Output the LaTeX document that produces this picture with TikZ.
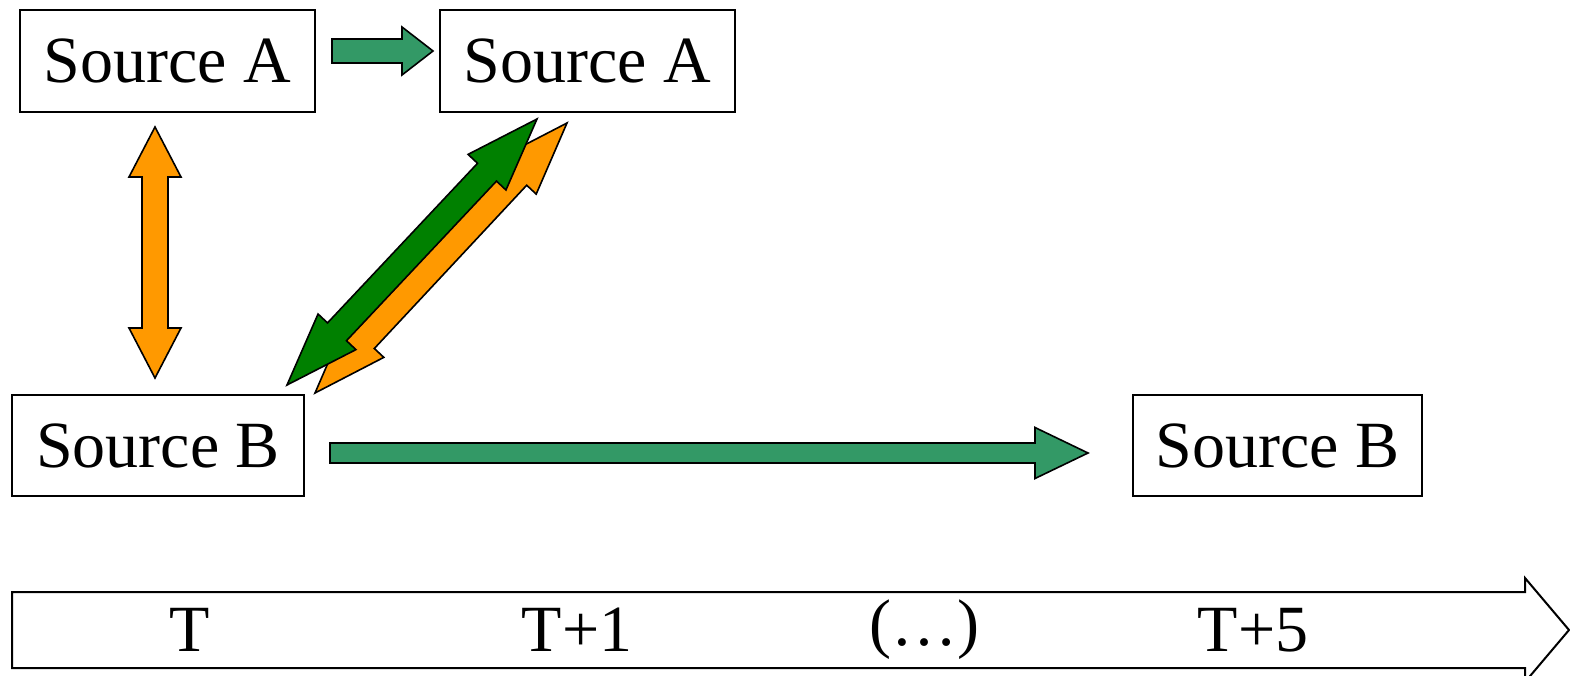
\documentclass[tikz,border=0pt]{standalone}
\usepackage{fontspec}
\setmainfont{Liberation Serif}
\usetikzlibrary{calc}

\definecolor{seagreen}{RGB}{51,153,102}
\definecolor{leafgreen}{RGB}{0,128,0}
\definecolor{amber}{RGB}{255,153,0}

% block arrow with one head: #1 style, #2 tail, #3 tip,
% #4 half body width, #5 half head width, #6 head length
\newcommand\blocksingle[6]{%
  \coordinate (hbase) at ($(#3)!#6!(#2)$);
  \path[#1] ($(#2)!#4!90:(#3)$) -- ($(hbase)!#4!-90:(#2)$)
    -- ($(hbase)!#5!-90:(#2)$) -- (#3) -- ($(hbase)!#5!90:(#2)$)
    -- ($(hbase)!#4!90:(#2)$) -- ($(#2)!#4!-90:(#3)$) -- cycle;
}
% block arrow with a head at both ends
\newcommand\blockdouble[6]{%
  \coordinate (hbaseA) at ($(#2)!#6!(#3)$);
  \coordinate (hbaseB) at ($(#3)!#6!(#2)$);
  \path[#1] (#2) -- ($(hbaseA)!#5!90:(#3)$) -- ($(hbaseA)!#4!90:(#3)$)
    -- ($(hbaseB)!#4!-90:(#2)$) -- ($(hbaseB)!#5!-90:(#2)$) -- (#3)
    -- ($(hbaseB)!#5!90:(#2)$) -- ($(hbaseB)!#4!90:(#2)$)
    -- ($(hbaseA)!#4!-90:(#3)$) -- ($(hbaseA)!#5!-90:(#3)$) -- cycle;
}

\tikzset{
  srcbox/.style={draw=black, line width=2pt, fill=white, inner sep=0pt,
    font=\fontsize{66}{70}\selectfont},
  ticklabel/.style={inner sep=0pt, font=\fontsize{66}{70}\selectfont},
  arrowshape/.style={draw=black, line width=1.6pt, line join=miter},
}

\begin{document}
\begin{tikzpicture}[x=1pt, y=-1pt]
  \useasboundingbox (0,0) rectangle (1570,676);
  \clip (0,0) rectangle (1570,676);

  % time axis
  \coordinate (axisTail) at (12,630);
  \coordinate (axisTip) at (1569,630);
  \blocksingle{arrowshape, line width=2pt, fill=white}{axisTail}{axisTip}{38pt}{52pt}{44pt}
  \node[ticklabel] (tT)  at (190,630) {T};
  \node[ticklabel] (tT1) at (577,630) {T+1};
  \node[ticklabel] (tDots) at (924,630) {(…)};
  \node[ticklabel] (tT5) at (1253,630) {T+5};

  % sources
  \node[srcbox, minimum width=295pt, minimum height=102pt] (srcA0) at (167.5,61) {Source A};
  \node[srcbox, minimum width=295pt, minimum height=102pt] (srcA1) at (587.5,61) {Source A};
  \node[srcbox, minimum width=292pt, minimum height=101pt] (srcB0) at (158,445.5) {Source B};
  \node[srcbox, minimum width=289pt, minimum height=101pt] (srcB5) at (1277.5,445.5) {Source B};

  % A persists to the next step
  \coordinate (aTail) at (332,51);
  \coordinate (aTip) at (433,51);
  \blocksingle{arrowshape, fill=seagreen}{aTail}{aTip}{12pt}{24pt}{31pt}

  % B persists five steps
  \coordinate (bTail) at (330,453);
  \coordinate (bTip) at (1088,453);
  \blocksingle{arrowshape, fill=seagreen}{bTail}{bTip}{10pt}{25.5pt}{53pt}

  % A <-> B at the same step
  \coordinate (vTop) at (155,127);
  \coordinate (vBot) at (155,378);
  \blockdouble{arrowshape, fill=amber}{vTop}{vBot}{13pt}{26pt}{50pt}

  % B <-> A across steps
  \coordinate (oLow) at (315,393);
  \coordinate (oHigh) at (567,123);
  \blockdouble{arrowshape, fill=amber}{oLow}{oHigh}{13pt}{26pt}{73pt}
  \coordinate (gLow) at (287,385);
  \coordinate (gHigh) at (537,119);
  \blockdouble{arrowshape, fill=leafgreen}{gLow}{gHigh}{13pt}{26pt}{73pt}
\end{tikzpicture}
\end{document}
